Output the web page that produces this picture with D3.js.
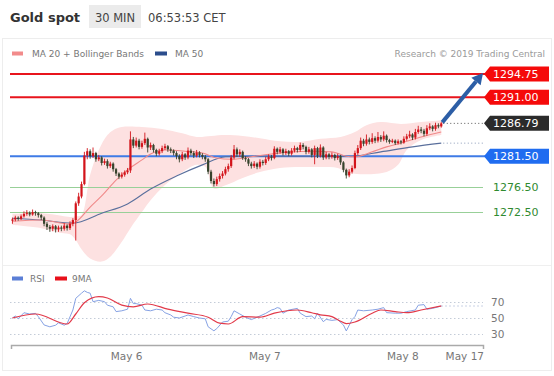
<!DOCTYPE html>
<html><head><meta charset="utf-8">
<script src="https://cdn.jsdelivr.net/npm/d3@7"></script>
<style>
html,body{margin:0;padding:0;background:#fff;}
svg{display:block;font-family:"DejaVu Sans",sans-serif;}
</style></head><body>
<svg id="c" width="554" height="376"></svg>
<script>
// ---------- DATA ----------
const title = "Gold spot";
const timeframe = "30 MIN";
const clock = "06:53:53 CET";
const credit = "Research \u00A9 2019 Trading Central";
const startTime = new Date(2019,4,5,4,0);
const endTime = new Date(2019,4,8,14,0);
const barMinutes = 30;

const opens = [1271.1,1271.3,1271.6,1271.4,1271.8,1272.2,1272.4,1272.1,1272.5,1272.3,1272.0,1271.6,1270.6,1270.1,1269.8,1270.2,1269.7,1270.0,1269.8,1270.3,
1269.9,1270.6,1271.2,1273.9,1275.0,1277.0,1281.6,1282.3,1281.5,1282.0,1281.0,1281.3,1280.4,1280.7,1279.9,1280.3,1279.4,1278.7,1278.2,1278.5,
1278.9,1279.2,1284.2,1283.2,1284.0,1283.0,1283.6,1284.3,1282.9,1283.3,1282.5,1281.9,1282.3,1282.8,1283.1,1282.6,1282.4,1282.0,1281.5,1281.0,
1281.8,1281.3,1282.4,1282.0,1281.6,1282.1,1281.7,1281.4,1281.0,1279.0,1277.5,1277.0,1277.8,1278.3,1278.7,1279.4,1279.9,1281.3,1282.6,1281.8,
1282.2,1281.2,1281.0,1280.3,1279.9,1280.3,1279.8,1280.6,1280.4,1281.0,1281.4,1281.2,1282.7,1282.2,1282.6,1282.0,1282.3,1281.9,1282.4,1282.8,
1282.5,1283.3,1283.0,1282.2,1282.6,1281.7,1282.8,1281.6,1282.9,1281.3,1281.8,1281.4,1281.7,1281.2,1281.5,1280.5,1279.3,1278.4,1279.0,1279.6,
1282.0,1282.8,1284.0,1283.5,1284.2,1283.8,1284.4,1284.0,1284.6,1284.2,1284.8,1284.1,1283.8,1284.0,1283.6,1283.9,1283.7,1284.3,1284.7,1285.0,
1284.5,1285.4,1285.8,1285.6,1285.1,1286.0,1286.3,1285.9,1286.5,1286.3];
const closes = [1271.3,1271.6,1271.4,1271.8,1272.2,1272.4,1272.1,1272.5,1272.3,1272.0,1271.6,1270.6,1270.1,1269.8,1270.2,1269.7,1270.0,1269.8,1270.3,1269.9,
1270.6,1271.2,1273.9,1275.0,1277.0,1281.6,1282.3,1281.5,1282.0,1281.0,1281.3,1280.4,1280.7,1279.9,1280.3,1279.4,1278.7,1278.2,1278.5,1278.9,
1279.2,1284.2,1283.2,1284.0,1283.0,1283.6,1284.3,1282.9,1283.3,1282.5,1281.9,1282.3,1282.8,1283.1,1282.6,1282.4,1282.0,1281.5,1281.0,1281.8,
1281.3,1282.4,1282.0,1281.6,1282.1,1281.7,1281.4,1281.0,1279.0,1277.5,1277.0,1277.8,1278.3,1278.7,1279.4,1279.9,1281.3,1282.6,1281.8,1282.2,
1281.2,1281.0,1280.3,1279.9,1280.3,1279.8,1280.6,1280.4,1281.0,1281.4,1281.2,1282.7,1282.2,1282.6,1282.0,1282.3,1281.9,1282.4,1282.8,1282.5,
1283.3,1283.0,1282.2,1282.6,1281.7,1282.8,1281.6,1282.9,1281.3,1281.8,1281.4,1281.7,1281.2,1281.5,1280.5,1279.3,1278.4,1279.0,1279.6,1282.0,
1282.8,1284.0,1283.5,1284.2,1283.8,1284.4,1284.0,1284.6,1284.2,1284.8,1284.1,1283.8,1284.0,1283.6,1283.9,1283.7,1284.3,1284.7,1285.0,1284.5,
1285.4,1285.8,1285.6,1285.1,1286.0,1286.3,1285.9,1286.5,1286.3,1286.79];
const highs = [1271.6,1271.9,1271.8,1272.1,1272.6,1272.8,1272.6,1272.9,1272.7,1272.5,1272.2,1271.8,1270.9,1270.4,1270.5,1270.4,1270.3,1270.3,1270.7,1270.5,
1271.0,1271.5,1274.2,1275.6,1277.4,1282.2,1282.8,1282.6,1282.9,1282.2,1281.7,1281.5,1281.1,1281.0,1280.6,1280.5,1279.6,1278.9,1278.9,1279.2,
1279.6,1285.5,1284.6,1284.5,1284.3,1284.0,1285.3,1284.5,1283.7,1283.5,1282.7,1282.7,1283.2,1283.5,1283.3,1282.9,1282.6,1282.3,1281.8,1282.2,
1282.0,1282.9,1282.7,1282.3,1282.5,1282.3,1282.0,1281.7,1281.2,1279.3,1277.9,1278.2,1278.7,1279.1,1279.8,1280.3,1281.7,1283.3,1282.9,1282.6,
1282.4,1281.5,1281.2,1280.6,1280.7,1280.5,1281.0,1280.9,1281.4,1281.8,1281.7,1283.1,1282.9,1283.0,1282.8,1282.7,1282.5,1282.8,1283.2,1283.0,
1283.7,1283.6,1283.2,1283.0,1282.8,1283.2,1283.0,1283.4,1283.1,1282.2,1282.0,1282.1,1281.9,1281.9,1281.7,1280.7,1279.5,1279.4,1280.0,1282.4,
1283.3,1284.5,1284.3,1285.0,1284.5,1285.2,1284.7,1285.4,1284.9,1285.5,1285.0,1284.3,1284.3,1284.2,1284.2,1284.1,1284.7,1285.1,1285.6,1285.2,
1285.9,1286.4,1286.2,1285.9,1286.5,1286.8,1286.5,1286.9,1286.8,1287.0];
const lows = [1270.6,1271.0,1271.1,1271.2,1271.6,1271.9,1271.8,1271.9,1271.9,1271.6,1271.2,1270.2,1269.6,1269.3,1269.4,1269.2,1269.3,1269.4,1269.5,1269.5,
1269.6,1270.2,1267.9,1273.5,1274.7,1276.8,1281.0,1281.1,1281.2,1280.6,1280.7,1280.0,1280.1,1279.5,1279.6,1279.0,1278.3,1277.8,1277.9,1278.2,
1278.6,1278.8,1282.8,1282.9,1282.6,1282.7,1283.3,1282.1,1282.5,1282.1,1281.5,1281.6,1282.0,1282.5,1282.2,1282.0,1281.6,1281.0,1280.5,1280.7,
1280.9,1281.0,1281.6,1281.2,1281.3,1281.3,1281.0,1280.6,1278.6,1277.1,1276.6,1276.7,1277.4,1277.9,1278.4,1279.0,1279.6,1281.0,1281.4,1281.4,
1280.9,1280.6,1279.9,1279.5,1279.6,1279.4,1279.5,1280.0,1280.1,1280.7,1280.8,1281.0,1281.8,1281.9,1281.6,1281.7,1281.5,1281.6,1282.1,1282.1,
1282.2,1282.6,1281.8,1281.9,1281.3,1280.2,1281.2,1281.3,1280.9,1281.0,1281.0,1281.1,1280.8,1280.9,1280.1,1278.9,1277.9,1278.1,1278.7,1279.4,
1281.7,1282.5,1283.1,1283.2,1283.4,1283.5,1283.6,1283.7,1283.8,1283.9,1283.7,1283.5,1283.6,1283.3,1283.4,1283.4,1283.5,1284.0,1284.4,1284.1,
1284.2,1285.1,1285.2,1284.7,1284.8,1285.7,1285.5,1285.6,1286.0,1286.1];

// Bollinger bands (20), by bar index
const upperBar = [0,10,17,20,22,24,27,30,33,35,38,45,52,59,64,69,74,80,86,93,100,107,114,119,123,128,135,142,149];
const upperVal = [1272.2,1272.3,1271.9,1271.7,1271.8,1272.0,1278.5,1282.5,1284.9,1285.7,1286.2,1286.2,1285.9,1285.2,1284.6,1284.75,1284.9,1284.75,1284.4,1283.9,1283.8,1284.3,1284.6,1285.4,1286.5,1287.0,1286.7,1287.0,1287.3];
const lowerBar = [0,10,17,20,22,24,27,31,34,38,41,45,48,53,59,64,67,70,74,80,86,93,100,107,113,116,121,130,134,137,142,149];
const lowerVal = [1270.4,1269.9,1269.1,1268.9,1268.0,1266.5,1265.0,1264.5,1265.3,1267.7,1269.9,1272.5,1274.4,1276.85,1278.9,1280.1,1279.8,1276.3,1276.8,1278.0,1278.95,1279.6,1279.75,1279.75,1279.6,1278.95,1278.6,1278.95,1280.1,1282.5,1284.1,1284.9];
// MA 20
const ma20Bar = [0,10,20,22,27,31,36,40,45,48,53,60,66,71,76,83,90,97,104,111,116,119,125,130,135,142,149];
const ma20Val = [1271.0,1271.2,1270.55,1270.9,1273.3,1275.1,1277.65,1279.3,1280.9,1281.85,1282.5,1282.3,1282.0,1281.2,1281.0,1281.4,1281.85,1282.2,1282.3,1282.2,1281.5,1281.4,1282.2,1283.0,1283.6,1284.6,1285.4];
// MA 50
const ma50Bar = [0,10,21,31,40,48,57,66,74,83,100,118,128,139,149];
const ma50Val = [1271.5,1271.2,1270.7,1272.3,1273.8,1276.2,1278.3,1280.1,1281.4,1281.5,1281.5,1281.5,1282.2,1283.0,1283.6];

// key levels
const resistances = [1294.75, 1291.00];
const pivots = [1281.50];
const supports = [1276.50, 1272.50];
const target = 1294.75;

// RSI and its 9MA
const rsiBar = [0,1,2,4,6,8,9,11,13,15,16,18,19,21,22,24,25,26,27,28,30,32,33,35,36,38,40,41,42,43,45,46,48,50,52,53,55,56,58,60,61,63,65,67,68,70,71,73,75,76,77,79,81,83,85,86,88,90,91,92,93,94,96,99,100,102,104,105,106,108,109,111,113,115,116,118,119,120,122,125,127,129,130,133,135,137,140,141,143,144,146,148,149];
const rsiVal = [50,52.5,49,56.6,55,55.8,51.7,41.3,39,41,44,41,43,60,74.6,81,84,82,81,70.4,72,70.4,66,64,58,59,61,74.6,68,68,66,60,59,61,60,56.6,53.8,51,50,52.5,53.8,51.7,50,49,39,34,36.7,45,46,51.7,59,55,51,48,51,52.5,55.8,60,61,63,62,56,60,62,56,51.7,52.5,49,56,45.4,48.3,47,48,41.3,33.8,48,51.7,60,59,60,61,63,56.7,56,56,58,60,66,66.7,61,62,64,65];
const maBar = [0,8,19,22,25,30,33,38,42,47,54,61,68,72,75,80,86,91,99,104,107,111,114,116,119,125,128,133,137,142,149];
const maVal = [50,55,42.5,55,69,76.6,75,66,64,67.5,61,56,51,43.5,42.5,51.6,51,56,60,56.6,54,51.7,46,43,45,56,60,58,56.7,60,65];
const rsiTicks = [30,50,70];

const xTickDates = [new Date(2019,4,6), new Date(2019,4,7), new Date(2019,4,8)];
const endLabel = "May 17";

// ---------- CHART ----------
const svg = d3.select("#c");
const x = d3.scaleTime().domain([startTime, endTime]).range([11, 483]);
const y = d3.scaleLinear().domain([1272.50, 1294.75]).range([212, 74]);
const ry = d3.scaleLinear().domain([30, 70]).range([334, 302]);
const bx = i => x(new Date(startTime.getTime() + (i*barMinutes + barMinutes/2)*60000));
const fmt = d3.format(".2f");
const n = closes.length;

// frame
svg.append("rect").attr("x",2.5).attr("y",38.5).attr("width",549).attr("height",332)
  .attr("fill","none").attr("stroke","#ededed");
svg.append("line").attr("x1",3).attr("x2",551).attr("y1",265.5).attr("y2",265.5).attr("stroke","#efefef");

// header
svg.append("text").attr("x",10).attr("y",22).attr("font-size",13).attr("font-weight","bold")
  .attr("fill","#333").text(title);
svg.append("rect").attr("x",89).attr("y",5).attr("width",52).attr("height",23).attr("fill","#ebebeb");
svg.append("text").attr("x",115).attr("y",21.5).attr("text-anchor","middle").attr("font-size",11.5)
  .attr("fill","#444").text(timeframe);
svg.append("text").attr("x",148).attr("y",21.5).attr("font-size",11.5).attr("fill","#444").text(clock);

// legend
svg.append("rect").attr("x",12).attr("y",51.5).attr("width",11).attr("height",4).attr("fill","#f28b8b");
svg.append("text").attr("x",32).attr("y",56.5).attr("font-size",9).attr("fill","#777").text("MA 20 + Bollinger Bands");
svg.append("rect").attr("x",155).attr("y",51.5).attr("width",12).attr("height",4).attr("fill","#2b4d8c");
svg.append("text").attr("x",175).attr("y",56.5).attr("font-size",9).attr("fill","#777").text("MA 50");
svg.append("text").attr("x",545).attr("y",56.5).attr("text-anchor","end").attr("font-size",9).attr("fill","#9a9a9a").text(credit);

// Bollinger band
const cr = d3.line().curve(d3.curveCatmullRom.alpha(0.5));
const upPts = upperBar.map((b,i)=>[bx(b), y(upperVal[i])]);
const loPts = lowerBar.map((b,i)=>[bx(b), y(lowerVal[i])]).reverse();
svg.append("path").attr("d", cr(upPts) + cr(loPts).replace(/^M/,"L") + "Z").attr("fill","#fde1e1");

// level lines
resistances.forEach(v=>{
  svg.append("line").attr("x1",10).attr("x2",486).attr("y1",y(v)).attr("y2",y(v)).attr("stroke","#e8141c").attr("stroke-width",2);
});
pivots.forEach(v=>{
  svg.append("line").attr("x1",10).attr("x2",486).attr("y1",y(v)).attr("y2",y(v)).attr("stroke","#3f7be6").attr("stroke-width",2);
});
supports.forEach(v=>{
  svg.append("line").attr("x1",10).attr("x2",483).attr("y1",Math.round(y(v))+0.5).attr("y2",Math.round(y(v))+0.5).attr("stroke","#98d098").attr("stroke-width",1);
});

// MA lines
const sm = d3.line().curve(d3.curveMonotoneX);
svg.append("path").attr("d", sm(ma50Bar.map((b,i)=>[bx(b), y(ma50Val[i])]))).attr("fill","none")
  .attr("stroke","#5a6f9c").attr("stroke-width",1.1);
svg.append("path").attr("d", sm(ma20Bar.map((b,i)=>[bx(b), y(ma20Val[i])]))).attr("fill","none")
  .attr("stroke","#f08a8a").attr("stroke-width",1.1);

// candles
const cg = svg.append("g");
d3.range(n).forEach(i=>{
  const up = closes[i] > opens[i];
  const col = up ? "#d3141b" : "#37432c";
  const cx = bx(i);
  cg.append("line").attr("x1",cx).attr("x2",cx).attr("y1",y(highs[i])).attr("y2",y(lows[i]))
    .attr("stroke",col).attr("stroke-width",0.9);
  const top = y(Math.max(opens[i],closes[i])), bot = y(Math.min(opens[i],closes[i]));
  cg.append("rect").attr("x",cx-1.1).attr("width",2.2).attr("y",top).attr("height",Math.max(1,bot-top)).attr("fill",col);
});

// dotted extensions
const lastX = bx(n-1);
svg.append("line").attr("x1",lastX+2).attr("x2",483).attr("y1",y(closes[n-1])).attr("y2",y(closes[n-1]))
  .attr("stroke","#555").attr("stroke-dasharray","1,2.5");
svg.append("line").attr("x1",lastX+2).attr("x2",483).attr("y1",y(ma50Val[ma50Val.length-1])).attr("y2",y(ma50Val[ma50Val.length-1]))
  .attr("stroke","#8a9ab8").attr("stroke-dasharray","1,2.5");

// arrow
const ax0 = lastX+1, ay0 = y(closes[n-1]) - 1, ax1 = x(endTime), ay1 = y(target) - 1;
const ang = Math.atan2(ay1-ay0, ax1-ax0);
const hl = 11, hw = 6;
const bxh = ax1 - hl*Math.cos(ang), byh = ay1 - hl*Math.sin(ang);
svg.append("line").attr("x1",ax0).attr("y1",ay0).attr("x2",bxh).attr("y2",byh)
  .attr("stroke","#2c5ea6").attr("stroke-width",4);
svg.append("path").attr("d",`M${ax1},${ay1}L${bxh - hw*Math.sin(ang)},${byh + hw*Math.cos(ang)}L${bxh + hw*Math.sin(ang)},${byh - hw*Math.cos(ang)}Z`)
  .attr("fill","#2c5ea6");

// tags
function tag(v, fill){
  const yy = y(v);
  svg.append("path").attr("d",`M484,${yy}L490,${yy-7.5}L549,${yy-7.5}L549,${yy+7.5}L490,${yy+7.5}Z`).attr("fill",fill);
  svg.append("text").attr("x",493).attr("y",yy).attr("dy","0.36em").attr("font-size",11).attr("fill","#fff").text(fmt(v));
}
resistances.forEach(v=>tag(v,"#f50a0a"));
tag(closes[n-1], "#2b2b2b");
pivots.forEach(v=>tag(v,"#1f6cf0"));
supports.forEach(v=>{
  svg.append("text").attr("x",493).attr("y",y(v)).attr("dy","0.36em").attr("font-size",11).attr("fill","#2f8a2f").text(fmt(v));
});

// ---------- RSI panel ----------
svg.append("rect").attr("x",12).attr("y",276.5).attr("width",11).attr("height",4).attr("fill","#5b7fd6");
svg.append("text").attr("x",30).attr("y",281.5).attr("font-size",9).attr("fill","#777").text("RSI");
svg.append("rect").attr("x",55).attr("y",276.5).attr("width",12).attr("height",4).attr("fill","#e8101a");
svg.append("text").attr("x",72).attr("y",281.5).attr("font-size",9).attr("fill","#777").text("9MA");

rsiTicks.forEach(t=>{
  svg.append("line").attr("x1",10).attr("x2",483).attr("y1",Math.round(ry(t))+0.5).attr("y2",Math.round(ry(t))+0.5)
    .attr("stroke","#c4ccd8").attr("stroke-dasharray","1.5,2.5");
  svg.append("text").attr("x",491).attr("y",ry(t)).attr("dy","0.36em").attr("font-size",10.5).attr("fill","#777").text(t);
});
svg.append("line").attr("x1",bx(n-1)).attr("x2",483).attr("y1",ry(rsiVal[rsiVal.length-1])).attr("y2",ry(rsiVal[rsiVal.length-1]))
  .attr("stroke","#b8c4dc").attr("stroke-dasharray","1.5,2.5");

svg.append("path").attr("d", d3.line()(rsiBar.map((b,i)=>[bx(b), ry(rsiVal[i])]))).attr("fill","none")
  .attr("stroke","#86a2e4").attr("stroke-width",1);
svg.append("path").attr("d", d3.line().curve(d3.curveMonotoneX)(maBar.map((b,i)=>[bx(b), ry(maVal[i])]))).attr("fill","none")
  .attr("stroke","#e23a4a").attr("stroke-width",1.2);

// x axis
const xa = svg.append("g").attr("transform","translate(0,345)")
  .call(d3.axisBottom(x).tickValues(xTickDates).tickFormat(d3.timeFormat("%b %-d")).tickSizeInner(0).tickSizeOuter(4).tickPadding(8));
xa.select(".domain").attr("stroke","#aaa").attr("stroke-width",1.5);
xa.selectAll("text").attr("font-size",10.5).attr("fill","#777").attr("font-family","DejaVu Sans");
svg.append("text").attr("x",484).attr("y",345+8).attr("dy","0.71em").attr("text-anchor","end")
  .attr("font-size",10.5).attr("fill","#777").text(endLabel);
</script>
</body></html>
